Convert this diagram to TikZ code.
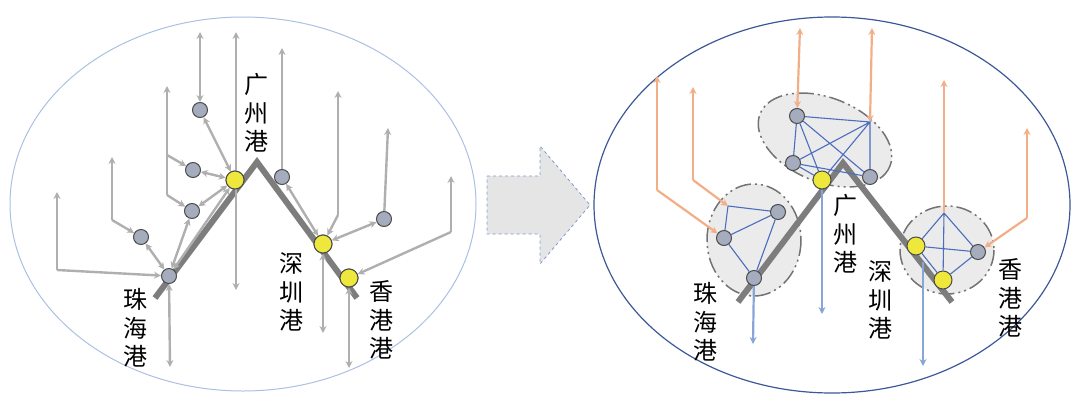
\documentclass[tikz,border=0pt]{standalone}
\usepackage{fontspec}
\newfontfamily\cjk{Noto Sans CJK SC}
\usetikzlibrary{arrows.meta,positioning}
\definecolor{nodegray}{RGB}{165,172,190}
\definecolor{portyellow}{RGB}{238,232,60}
\definecolor{linkgray}{RGB}{175,175,175}
\definecolor{roadgray}{RGB}{125,125,125}
\definecolor{myorange}{RGB}{242,175,135}
\definecolor{myblue}{RGB}{75,110,190}
\definecolor{lightblue}{RGB}{135,165,215}
\tikzset{
  gnode/.style={circle,draw=black!70,fill=nodegray,minimum size=15pt,inner sep=0pt,line width=1pt},
  ynode/.style={circle,draw=black!70,fill=portyellow,minimum size=18pt,inner sep=0pt,line width=1pt},
  link/.style={linkgray,line width=2.4pt,-{Stealth[length=7pt,width=7pt]}},
  blink/.style={link,{Stealth[length=7pt,width=7pt]}-{Stealth[length=7pt,width=7pt]}},
  olink/.style={myorange,line width=2.2pt,-{Stealth[length=7pt,width=7pt]}},
  dlink/.style={lightblue,line width=2.2pt,-{Stealth[length=7pt,width=7pt]}},
  net/.style={myblue,line width=1.1pt},
  road/.style={roadgray,line width=6pt},
  portname/.style={font=\cjk\fontsize{24}{28.5}\selectfont,align=center,inner sep=0pt},
  cluster/.style={fill=black!8,draw=black!55,line width=1.5pt,dash pattern=on 16pt off 4pt on 2pt off 4pt on 2pt off 4pt}
}
\begin{document}
\begin{tikzpicture}[x=1pt,y=-1pt]
  \useasboundingbox (0,0) rectangle (1080,410);
  % left: before
  \draw[lightblue!70,line width=1pt] (243,204) ellipse (233 and 187);
  \draw[road,line join=miter] (155,298) -- (257,162) -- (357,298);
  \node[ynode] (gz) at (235,180) {};
  \node[gnode] (zh) at (169,276) {};
  \node[ynode] (sz) at (323,244) {};
  \node[ynode] (hk) at (349,278) {};
  \node[gnode] (a1) at (200,110) {};
  \node[gnode] (a2) at (193,170) {};
  \node[gnode] (a3) at (192,211) {};
  \node[gnode] (a4) at (141,237) {};
  \node[gnode] (a5) at (282,177) {};
  \node[gnode] (a6) at (384,219) {};
  \coordinate (a1top) at (200,32);
  \coordinate (gztop) at (236,32);
  \coordinate (gzbot) at (236,290);
  \coordinate (k1top) at (167,86);
  \coordinate (k1mid) at (167,155);
  \coordinate (k1bot) at (167,195);
  \coordinate (k2top) at (112,157);
  \coordinate (k2bot) at (112,220);
  \coordinate (k3top) at (57,192);
  \coordinate (k3bot) at (57,270);
  \coordinate (a5top) at (282,48);
  \coordinate (k4top) at (338,91);
  \coordinate (k4bot) at (338,215);
  \coordinate (a6top) at (388,128);
  \coordinate (k5top) at (451,176);
  \coordinate (k5bot) at (451,232);
  \coordinate (zhbot) at (170,367);
  \coordinate (szbot) at (323,333);
  \coordinate (hkbot) at (349,368);

  \draw[blink] (a1top) -- (a1);
  \draw[blink] (a1) -- (gz);
  \draw[blink] (gztop) -- (gzbot);
  \draw[blink] (a2) -- (gz);
  \draw[blink] (a3) -- (gz);
  \draw[link] (k1bot) -- (k1top);
  \draw[link] (k1mid) -- (a2);
  \draw[link] (k1bot) -- (a3);
  \draw[link] (k2bot) -- (k2top);
  \draw[link] (k2bot) -- (a4);
  \draw[blink] (a4) -- (zh);
  \draw[link] (k3bot) -- (k3top);
  \draw[link] (k3bot) -- (zh);
  \draw[blink] (zh) -- (a3);
  \draw[blink] (zh) -- (gz);
  \draw[blink] (zh) -- (zhbot);
  \draw[link] (a5) -- (a5top);
  \draw[blink] (a5) -- (sz);
  \draw[link] (k4bot) -- (k4top);
  \draw[link] (k4bot) -- (sz);
  \draw[link] (a6) -- (a6top);
  \draw[blink] (a6) -- (sz);
  \draw[link] (k5bot) -- (k5top);
  \draw[link] (k5bot) -- (hk);
  \draw[blink] (sz) -- (szbot);
  \draw[blink] (hk) -- (hkbot);
  \node[ynode] at (gz) {};
  \node[ynode] at (sz) {};
  \node[ynode] at (hk) {};

  \node[portname] (gzname) at (256,113) {广\\州\\港};
  \node[portname] (zhname) at (135,328) {珠\\海\\港};
  \node[portname] (szname) at (291,292) {深\\圳\\港};
  \node[portname] (hkname) at (381,320) {香\\港\\港};

  % middle arrow
  \fill[black!10,draw=myblue!70,dashed,line width=0.8pt]
    (487,176) -- (540,176) -- (540,146) -- (590,205) -- (540,264) -- (540,234) -- (487,234) -- cycle;

  % right: after
  \draw[myblue!80!black,line width=1.2pt] (832,205) ellipse (238 and 188);
  \draw[cluster,rotate around={-22:(825,140)}] (825,140) ellipse (70 and 42);
  \draw[cluster] (754,240) ellipse (47 and 56);
  \draw[cluster] (947,250) ellipse (47 and 44);
  \draw[road,line join=miter] (738,302) -- (843,163) -- (952,302);

  \node[gnode] (t1) at (797,116) {};
  \node[gnode] (t2) at (793,163) {};
  \node[gnode] (t3) at (870,177) {};
  \node[ynode] (gz2) at (822,180) {};
  \coordinate (tc) at (870,122);
  \node[gnode] (l2) at (778,212) {};
  \node[gnode] (l3) at (724,238) {};
  \node[gnode] (zh2) at (754,278) {};
  \coordinate (lc) at (728,206);
  \node[ynode] (sz2) at (916,246) {};
  \node[ynode] (hk2) at (943,280) {};
  \node[gnode] (r1) at (978,252) {};
  \coordinate (rc) at (944,213);

  \draw[net] (t1) -- (tc) -- (t3) -- (t1) -- (t2) -- (tc) -- (gz2) -- (t2) -- (t3) (t1) -- (gz2);
  \draw[net] (lc) -- (l2) -- (l3) -- (lc) (l3) -- (zh2) -- (l2);
  \draw[net] (rc) -- (sz2) -- (r1) -- (rc) -- (hk2) -- (r1) (sz2) -- (hk2);

  \coordinate (o1top) at (657,76);
  \coordinate (o1bot) at (657,190);
  \coordinate (o2top) at (693,87);
  \coordinate (o2bot) at (693,180);
  \coordinate (t1top) at (800,28);
  \coordinate (tctop) at (872,28);
  \coordinate (rctop) at (944,80);
  \coordinate (o3top) at (1027,128);
  \coordinate (o3bot) at (1027,218);
  \draw[olink] (o1bot) -- (o1top);
  \draw[olink] (o1bot) -- (l3);
  \draw[olink] (o2bot) -- (o2top);
  \draw[olink] (o2bot) -- (lc);
  \draw[olink,{Stealth[length=7pt,width=7pt]}-{Stealth[length=7pt,width=7pt]}] (t1top) -- (t1);
  \draw[olink,{Stealth[length=7pt,width=7pt]}-{Stealth[length=7pt,width=7pt]}] (tctop) -- (tc);
  \draw[olink] (rc) -- (rctop);
  \draw[olink] (o3bot) -- (o3top);
  \draw[olink] (o3bot) -- (r1);

  \coordinate (zh2bot) at (753,344);
  \coordinate (gz2bot) at (822,314);
  \coordinate (sz2top) at (923,262);
  \coordinate (sz2bot) at (923,366);
  \draw[dlink] (zh2) -- (zh2bot);
  \draw[dlink] (gz2) -- (gz2bot);
  \draw[dlink] (sz2top) -- (sz2bot);

  \node[portname] (gzname2) at (845,234) {广\\州\\港};
  \node[portname] (zhname2) at (705,322) {珠\\海\\港};
  \node[portname] (szname2) at (880,300) {深\\圳\\港};
  \node[portname] (hkname2) at (1010,298) {香\\港\\港};
\end{tikzpicture}
\end{document}
